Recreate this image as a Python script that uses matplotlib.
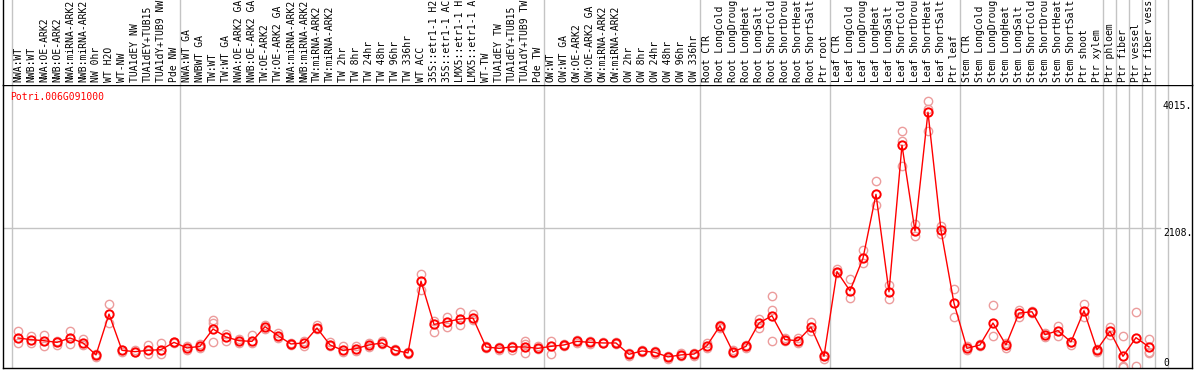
import matplotlib.pyplot as plt
import numpy as np

plt.rcParams['font.family'] = ['DejaVu Sans Mono']
plt.rcParams['font.size'] = 7

gene = 'Potri.006G091000'

labels = [
    'NWA:WT', 'NWB:WT', 'NWA:OE-ARK2', 'NWB:OE-ARK2', 'NWA:miRNA-ARK2', 'NWB:miRNA-ARK2',
    'NW 0hr', 'WT H2O', 'WT-NW', 'TUA1dEY NW', 'TUA1dEY+TUB15', 'TUA1dY+TUB9 NW', 'Pde NW',
    'NWA:WT GA', 'NWBWT GA', 'TW:WT', 'TW:WT GA', 'NWA:OE-ARK2 GA', 'NWB:OE-ARK2 GA',
    'TW:OE-ARK2', 'TW:OE-ARK2 GA', 'NWA:miRNA-ARK2', 'NWB:miRNA-ARK2', 'TW:miRNA-ARK2',
    'TW:miRNA-ARK2', 'TW 2hr', 'TW 8hr', 'TW 24hr', 'TW 48hr', 'TW 96hr', 'TW 336hr',
    'WT ACC', '35S::etr1-1 H2', '35S::etr1-1 AC', 'LMX5::etr1-1 H', 'LMX5::etr1-1 A',
    'WT-TW', 'TUA1dEY TW', 'TUA1dEY+TUB15', 'TUA1dY+TUB9 TW', 'Pde TW',
    'OW:WT', 'OW:WT GA', 'OW:OE-ARK2', 'OW:OE-ARK2 GA', 'OW:miRNA-ARK2', 'OW:miRNA-ARK2',
    'OW 2hr', 'OW 8hr', 'OW 24hr', 'OW 48hr', 'OW 96hr', 'OW 336hr',
    'Root CTR', 'Root LongCold', 'Root LongDroug', 'Root LongHeat', 'Root LongSalt',
    'Root ShortCold', 'Root ShortDrou', 'Root ShortHeat', 'Root ShortSalt', 'Ptr root',
    'Leaf CTR', 'Leaf LongCold', 'Leaf LongDroug', 'Leaf LongHeat', 'Leaf LongSalt',
    'Leaf ShortCold', 'Leaf ShortDrou', 'Leaf ShortHeat', 'Leaf ShortSalt', 'Ptr leaf',
    'Stem CTR', 'Stem LongCold', 'Stem LongDroug', 'Stem LongHeat', 'Stem LongSalt',
    'Stem ShortCold', 'Stem ShortDrou', 'Stem ShortHeat', 'Stem ShortSalt',
    'Ptr shoot', 'Ptr xylem', 'Ptr phloem', 'Ptr fiber', 'Ptr vessel', 'Ptr fiber vess',
]

# number of columns in each block between grey dividers
group_sizes = [13, 28, 12, 10, 10, 11, 1, 1, 1, 1, 1]

mean_vals = [
    452, 427, 411, 386, 452, 377, 197, 812, 266, 246, 266, 276, 386,
    302, 326, 587, 467, 411, 401, 622, 487, 362, 377, 602, 347, 266, 291, 347, 377, 266, 227,
    1308, 656, 697, 737, 752, 317, 296, 317, 317, 296,
    326, 347, 401, 386, 377, 377, 206, 257, 236, 167, 197, 210,
    336, 637, 241, 326, 677, 787, 427, 411, 617, 176,
    1452, 1162, 1653, 2615, 1147, 3355, 2063, 3851, 2074, 977,
    296, 347, 677, 347, 827, 847, 502, 562, 392, 862, 276,
    552, 176, 457, 317,
]

rep_a = [
    562, 476, 502, 401, 562, 437, 216, 967, 276, 236, 351, 377, 386,
    276, 362, 727, 507, 437, 502, 647, 527, 377, 401, 652, 386, 326, 326, 377, 401, 287, 246,
    1413, 712, 767, 847, 817, 336, 317, 336, 401, 326,
    401, 366, 427, 401, 398, 398, 227, 276, 251, 182, 227, 227,
    302, 602, 227, 351, 737, 1087, 452, 452, 687, 131,
    1488, 1337, 1778, 2810, 1252, 3565, 2168, 4015, 2138, 1192,
    276, 326, 942, 377, 877, 862, 522, 627, 397, 967, 281,
    622, 476, 842, 432,
]

rep_b = [
    377, 377, 326, 351, 362, 351, 167, 677, 236, 266, 216, 206, 376,
    326, 302, 677, 411, 377, 377, 587, 457, 347, 336, 587, 326, 236, 251, 317, 366, 251, 216,
    1177, 547, 617, 652, 717, 302, 276, 276, 227, 287,
    206, 326, 377, 366, 371, 356, 176, 236, 216, 141, 176, 176,
    377, 652, 266, 302, 602, 877, 401, 377, 552, 197,
    1428, 1052, 1578, 2450, 1042, 3415, 1988, 3905, 2018, 762,
    326, 366, 476, 302, 767, 827, 462, 476, 351, 767, 246,
    497, 35, 35, 246,
]

rep_c = [np.nan] * 88
rep_c[15] = 386
rep_c[39] = 360
rep_c[58] = 411
rep_c[68] = 3040
rep_c[70] = 3565
rep_c[85] = 10
rep_c[87] = 221

y_ticks = [0, 2108, 4015]
y_tick_labels = ['0', '2108.', '4015.']

W, H = 1194, 370
fig = plt.figure(figsize=(W / 100, H / 100), dpi=100)
ax = fig.add_axes([3 / W, 2 / H, 1189 / W, 283 / H])
hdr = fig.add_axes([3 / W, 285 / H, 1189 / W, 85 / H])

x = np.arange(len(labels))
xlim = (-1.154, 90.31)
for a in (ax, hdr):
    a.set_xlim(*xlim)
    a.set_xticks([])
ax.set_ylim(0, 4261)
hdr.set_ylim(0, 85)
hdr.set_yticks([])

grid_c = '#c4c4c4'
bounds = np.concatenate([[-0.5], np.cumsum(group_sizes) - 0.5])
for b in bounds:
    ax.axvline(b, color=grid_c, lw=1, zorder=0)
    hdr.axvline(b, color=grid_c, lw=1, zorder=0)
ax.axhline(2108, xmax=(1160 - 3) / 1189, color=grid_c, lw=1, zorder=0)

pink = '#ec9c9c'
for rep in (rep_a, rep_b, rep_c):
    ax.plot(x, rep, ls='none', marker='o', ms=6, mfc='none', mec=pink, mew=1, zorder=2)
ax.plot(x, mean_vals, color='red', lw=1, marker='o', ms=6, mfc='none',
        mec='red', mew=1.4, zorder=3)

for i, lab in enumerate(labels):
    hdr.text(i, 2.5, lab, rotation=90, ha='center', va='bottom', color='black')

ax.text(7 / 1189, 1 - 12 / 283, gene, transform=ax.transAxes, color='red',
        ha='left', va='center')

ax.yaxis.tick_right()
ax.set_yticks(y_ticks)
ax.set_yticklabels(y_tick_labels)
ax.tick_params(axis='y', length=0, pad=-20.9, labelsize=7)
tl = ax.get_yticklabels()
tl[0].set_va('bottom')
tl[1].set_va('top')
tl[2].set_va('top')

for a in (ax, hdr):
    for s in a.spines.values():
        s.set_color('black')
        s.set_linewidth(1)
hdr.spines['top'].set_visible(False)
hdr.spines['bottom'].set_visible(False)

fig.savefig('out.png', dpi=100)
